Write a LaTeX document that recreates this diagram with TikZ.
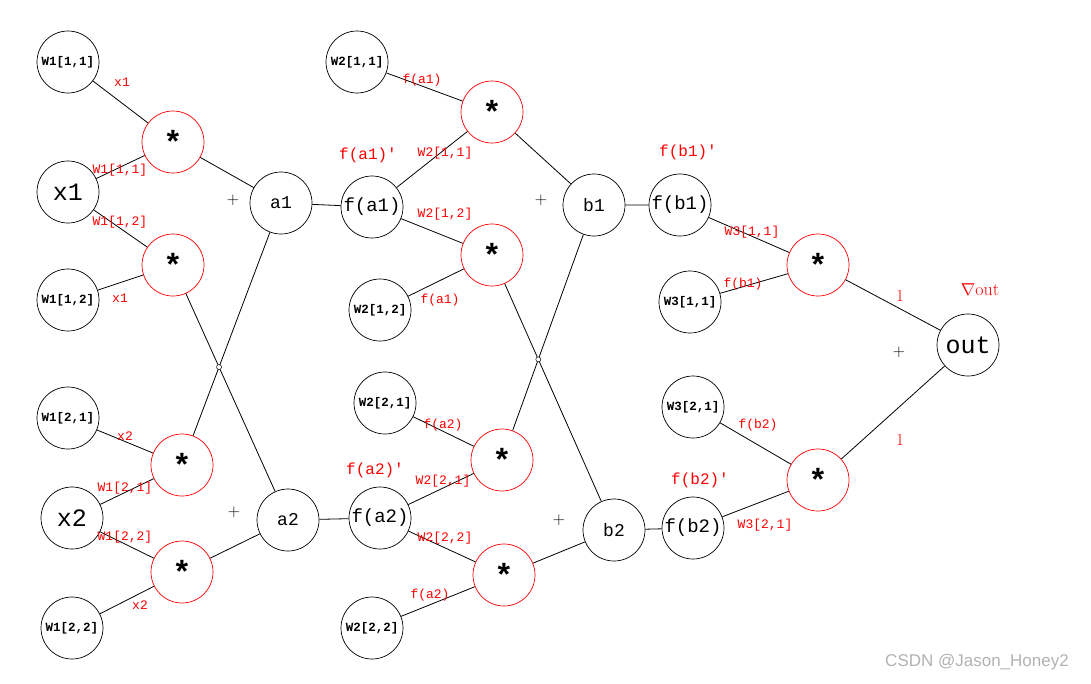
\documentclass[tikz,border=0pt]{standalone}
\usepackage{fontspec}
\setmonofont{Liberation Mono}
\setsansfont{Liberation Sans}
\usetikzlibrary{intersections}
\begin{document}
\begin{tikzpicture}[x=1pt,y=-1pt,
  c/.style={circle,draw,line width=0.7pt,minimum size=62pt,inner sep=0pt},
  m/.style={c,draw=red,font=\fontsize{32}{32}\selectfont\ttfamily\bfseries},
  w/.style={c,font=\fontsize{12.5}{12.5}\selectfont\ttfamily\bfseries},
  big/.style={c,font=\fontsize{25}{25}\selectfont\ttfamily},
  mid/.style={c,font=\fontsize{18}{18}\selectfont\ttfamily},
  fx/.style={c,font=\fontsize{19}{19}\selectfont\ttfamily},
  lb/.style={red,font=\fontsize{13}{13}\selectfont\ttfamily},
  lb2/.style={red,font=\fontsize{16}{16}\selectfont\ttfamily},
  pl/.style={font=\fontsize{17}{17}\selectfont},
  e/.style={line width=0.8pt}]
\newcommand\myast{\raisebox{-4pt}{*}}
\useasboundingbox (0,0) rectangle (1091,683);
\node[w] (w111) at (68,62) {W1[1,1]};
\node[big] (x1) at (68,192) {x1};
\node[w] (w112) at (68,300) {W1[1,2]};
\node[w] (w121) at (68,418) {W1[2,1]};
\node[big] (x2) at (72,518) {x2};
\node[w] (w122) at (72,628) {W1[2,2]};
\node[m] (m1) at (173,142) {\myast};
\node[m] (m2) at (173,265) {\myast};
\node[m] (m3) at (182,465) {\myast};
\node[m] (m4) at (182,572) {\myast};
\node[mid] (a1) at (281,203) {a1};
\node[mid] (a2) at (288,520) {a2};
\node[fx] (fa1) at (372,207) {f(a1)};
\node[fx] (fa2) at (380,518) {f(a2)};
\node[w] (w211) at (357,62) {W2[1,1]};
\node[w] (w212) at (380,310) {W2[1,2]};
\node[w] (w221) at (385,403) {W2[2,1]};
\node[w] (w222) at (372,628) {W2[2,2]};
\node[m] (n1) at (492,112) {\myast};
\node[m] (n2) at (492,255) {\myast};
\node[m] (n3) at (502,460) {\myast};
\node[m] (n4) at (504,575) {\myast};
\node[mid] (b1) at (594,205) {b1};
\node[mid] (b2) at (614,530) {b2};
\node[fx] (fb1) at (680,205) {f(b1)};
\node[fx] (fb2) at (693,528) {f(b2)};
\node[w] (w311) at (690,302) {W3[1,1]};
\node[w] (w321) at (693,407) {W3[2,1]};
\node[m] (p1) at (818,265) {\myast};
\node[m] (p2) at (818,480) {\myast};
\node[big] (out) at (968,345) {out};

\draw[e] (w111)--(m1) (x1)--(m1) (x1)--(m2) (w112)--(m2);
\draw[e] (w121)--(m3) (x2)--(m3) (x2)--(m4) (w122)--(m4);
\draw[e] (m1)--(a1) (m4)--(a2);
\draw[e,name path=pa] (m2)--(a2);
\draw[e,name path=pb] (m3)--(a1);
\path[name intersections={of=pa and pb,by=i1}];
\draw[line width=0.5pt,fill=white] (i1) circle (2.5pt);
\draw[e] (a1)--(fa1) (a2)--(fa2);
\draw[e] (w211)--(n1) (fa1)--(n1) (fa1)--(n2) (w212)--(n2);
\draw[e] (w221)--(n3) (fa2)--(n3) (fa2)--(n4) (w222)--(n4);
\draw[e] (n1)--(b1) (n4)--(b2);
\draw[e,name path=pc] (n2)--(b2);
\draw[e,name path=pd] (n3)--(b1);
\path[name intersections={of=pc and pd,by=i2}];
\draw[line width=0.5pt,fill=white] (i2) circle (2.5pt);
\draw[e] (b1)--(fb1) (b2)--(fb2);
\draw[e] (fb1)--(p1) (w311)--(p1) (w321)--(p2) (fb2)--(p2);
\draw[e] (p1)--(out) (p2)--(out);

\node[lb] at (122,82) {x1};
\node[lb] at (120,170) {W1[1,1]};
\node[lb] at (120,222) {W1[1,2]};
\node[lb] at (120,298) {x1};
\node[lb] at (125,436) {x2};
\node[lb] at (125,488) {W1[2,1]};
\node[lb] at (125,537) {W1[2,2]};
\node[lb] at (140,605) {x2};
\node[pl] at (233,200) {+};
\node[pl] at (234,512) {+};
\node[lb2] at (368,155) {f(a1)'};
\node[lb2] at (375,470) {f(a2)'};
\node[lb] at (422,80) {f(a1)};
\node[lb] at (445,153) {W2[1,1]};
\node[lb] at (445,214) {W2[1,2]};
\node[lb] at (440,300) {f(a1)};
\node[lb] at (443,425) {f(a2)};
\node[lb] at (443,481) {W2[2,1]};
\node[lb] at (445,538) {W2[2,2]};
\node[lb] at (430,595) {f(a2)};
\node[pl] at (541,200) {+};
\node[pl] at (559,520) {+};
\node[lb2] at (688,152) {f(b1)'};
\node[lb2] at (700,480) {f(b2)'};
\node[lb] at (752,232) {W3[1,1]};
\node[lb] at (743,284) {f(b1)};
\node[lb] at (758,425) {f(b2)};
\node[lb] at (765,525) {W3[2,1]};
\node[lb2,font=\fontsize{17}{17}\selectfont] at (900,296) {1};
\node[lb2,font=\fontsize{17}{17}\selectfont] at (900,440) {1};
\node[pl] at (899,352) {+};
\node[lb2,font=\fontsize{18}{18}\selectfont] at (980,290) {$\nabla$out};
\node[gray!60,font=\fontsize{17}{17}\selectfont\sffamily] at (977,662) {CSDN @Jason\_Honey2};
\end{tikzpicture}
\end{document}
